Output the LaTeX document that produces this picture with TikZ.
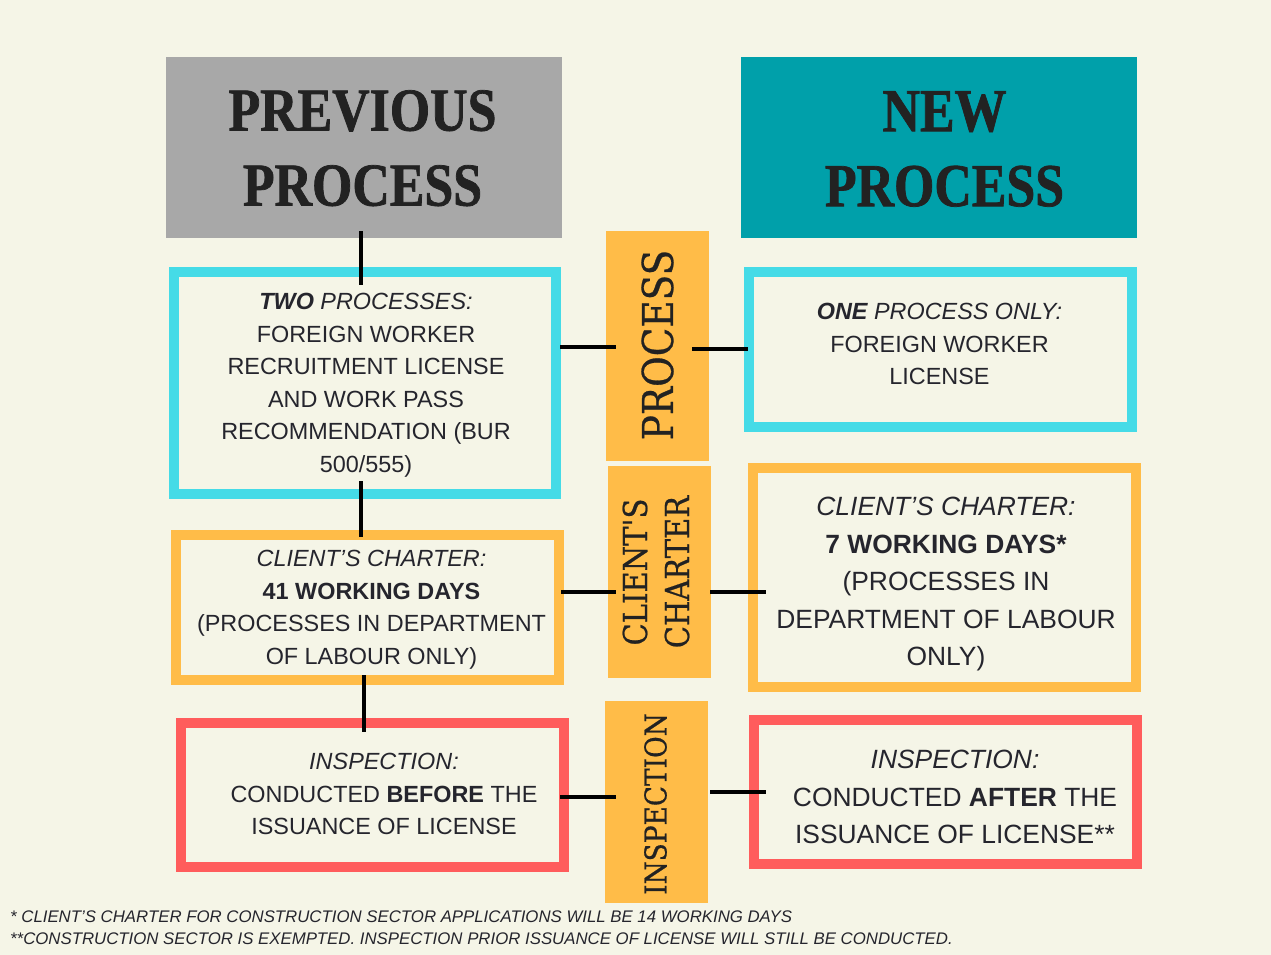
\documentclass[tikz,border=0pt]{standalone}
\usepackage{fontspec}
\setmainfont{Liberation Sans}
\newfontfamily\headfont[FakeStretch=0.85,BoldFeatures={FakeBold=1.2}]{Liberation Serif}
\newfontfamily\labfont[FakeStretch=0.88,FakeBold=0.6]{DejaVu Serif}
\definecolor{bg}{HTML}{F5F5E7}
\definecolor{hgray}{HTML}{A8A8A8}
\definecolor{hteal}{HTML}{00A0AA}
\definecolor{bcyan}{HTML}{45DBE7}
\definecolor{borange}{HTML}{FFBC48}
\definecolor{bred}{HTML}{FF5C5C}
\definecolor{txt}{HTML}{25252D}
\definecolor{htxt}{HTML}{222222}
\begin{document}
\begin{tikzpicture}[x=1pt,y=-1pt,
  hdr/.style={rectangle, inner sep=0pt, outer sep=0pt, minimum width=396pt, minimum height=181pt},
  frame/.style={rectangle, draw=#1, line width=10pt, fill=bg, inner sep=0pt, outer sep=0pt, minimum width=383pt},
  tag/.style={rectangle, fill=borange, inner sep=0pt, outer sep=0pt, minimum width=103pt},
  htext/.style={anchor=north, inner sep=0pt, align=center, text=htxt, font=\headfont\bfseries\fontsize{61}{75}\selectfont},
  body/.style={anchor=north, inner sep=0pt, align=center, text=txt, font=\fontsize{23.4}{32.5}\selectfont},
  bodybig/.style={anchor=north, inner sep=0pt, align=center, text=txt, font=\fontsize{26.4}{37.5}\selectfont},
  vtext/.style={rotate=90, inner sep=0pt, align=center, text=htxt},
  conn/.style={line width=4pt, draw=black},
  foot/.style={anchor=base west, inner sep=0pt, text=txt, font=\itshape\fontsize{16.8}{20}\selectfont}
]
\useasboundingbox (0,0) rectangle (1271,955);
\fill[bg] (0,0) rectangle (1271,955);

% headers
\node[hdr, fill=hgray] (prev) at (364,147.5) {};
\node[hdr, fill=hteal] (new) at (939,147.5) {};
\node[htext] (prevt) at (362.5,90) {PREVIOUS\\PROCESS};
\node[htext] (newt) at (944.5,91) {NEW\\PROCESS};

% frames
\node[frame=bcyan, minimum height=222pt, minimum width=382pt] (two) at (365,383) {};
\node[frame=bcyan, minimum height=155pt] (one) at (940.5,349.5) {};
\node[frame=borange, minimum height=145pt] (cfortyone) at (367.5,607.5) {};
\node[frame=borange, minimum height=219pt] (cseven) at (944.5,577.5) {};
\node[frame=bred, minimum height=144pt] (before) at (372.5,795) {};
\node[frame=bred, minimum height=144pt] (after) at (945.5,792) {};

% middle tags
\node[tag, minimum height=230pt] (proc) at (657.5,346) {};
\node[tag, minimum height=212pt] (cc) at (659.5,572) {};
\node[tag, minimum height=202pt] (insp) at (656.5,802) {};
\node[vtext, font=\labfont\fontsize{42.5}{50}\selectfont] (proct) at (657.5,345) {PROCESS};
\node[vtext, font=\labfont\fontsize{33}{42}\selectfont] (cct) at (656,572) {CLIENT'S\\CHARTER};
\node[vtext, font=\labfont\fontsize{30}{36}\selectfont] (inspt) at (655.5,804) {INSPECTION};

% texts
\node[body] (twot) at (366,293) {{\bfseries\itshape TWO} {\itshape PROCESSES:}\\FOREIGN WORKER\\RECRUITMENT LICENSE\\AND WORK PASS\\RECOMMENDATION (BUR\\500/555)};
\node[body] (onet) at (939.5,303) {{\bfseries\itshape ONE} {\itshape PROCESS ONLY:}\\FOREIGN WORKER\\LICENSE};
\node[body] (cfortyonet) at (371.5,550) {{\itshape CLIENT’S CHARTER:}\\{\bfseries 41 WORKING DAYS}\\(PROCESSES IN DEPARTMENT\\OF LABOUR ONLY)};
\node[bodybig] (csevent) at (946,497) {{\itshape CLIENT’S CHARTER:}\\{\bfseries 7 WORKING DAYS*}\\(PROCESSES IN\\DEPARTMENT OF LABOUR\\ONLY)};
\node[body] (beforet) at (384,753) {{\itshape INSPECTION:}\\CONDUCTED {\bfseries BEFORE} THE\\ISSUANCE OF LICENSE};
\node[bodybig] (aftert) at (955,750) {{\itshape INSPECTION:}\\CONDUCTED {\bfseries AFTER} THE\\ISSUANCE OF LICENSE**};

% connectors
\draw[conn] ([shift={(-3,-7)}]prev.south) -- ([shift={(-4,13)}]two.north);
\draw[conn] ([shift={(-4,-13)}]two.south) -- ([shift={(-6.5,2)}]cfortyone.north);
\draw[conn] ([shift={(-3.5,-5)}]cfortyone.south) -- ([shift={(-8.5,9)}]before.north);
\draw[conn] ([shift={(4,-36)}]two.east) -- ([shift={(10,1)}]proc.west);
\draw[conn] ([shift={(-17,3)}]proc.east) -- ([shift={(-1,-0.5)}]one.west);
\draw[conn] ([shift={(2,-15.5)}]cfortyone.east) -- ([shift={(8,20)}]cc.west);
\draw[conn] ([shift={(-1,20)}]cc.east) -- ([shift={(13,14.5)}]cseven.west);
\draw[conn] ([shift={(-4,2)}]before.east) -- ([shift={(11,-5)}]insp.west);
\draw[conn] ([shift={(2,-10)}]insp.east) -- ([shift={(12,0)}]after.west);

% footnotes
\node[foot] (fn1) at (10,922) {* CLIENT’S CHARTER FOR CONSTRUCTION SECTOR APPLICATIONS WILL BE 14 WORKING DAYS};
\node[foot] (fn2) at (10,944) {**CONSTRUCTION SECTOR IS EXEMPTED. INSPECTION PRIOR ISSUANCE OF LICENSE WILL STILL BE CONDUCTED.};
\end{tikzpicture}
\end{document}
